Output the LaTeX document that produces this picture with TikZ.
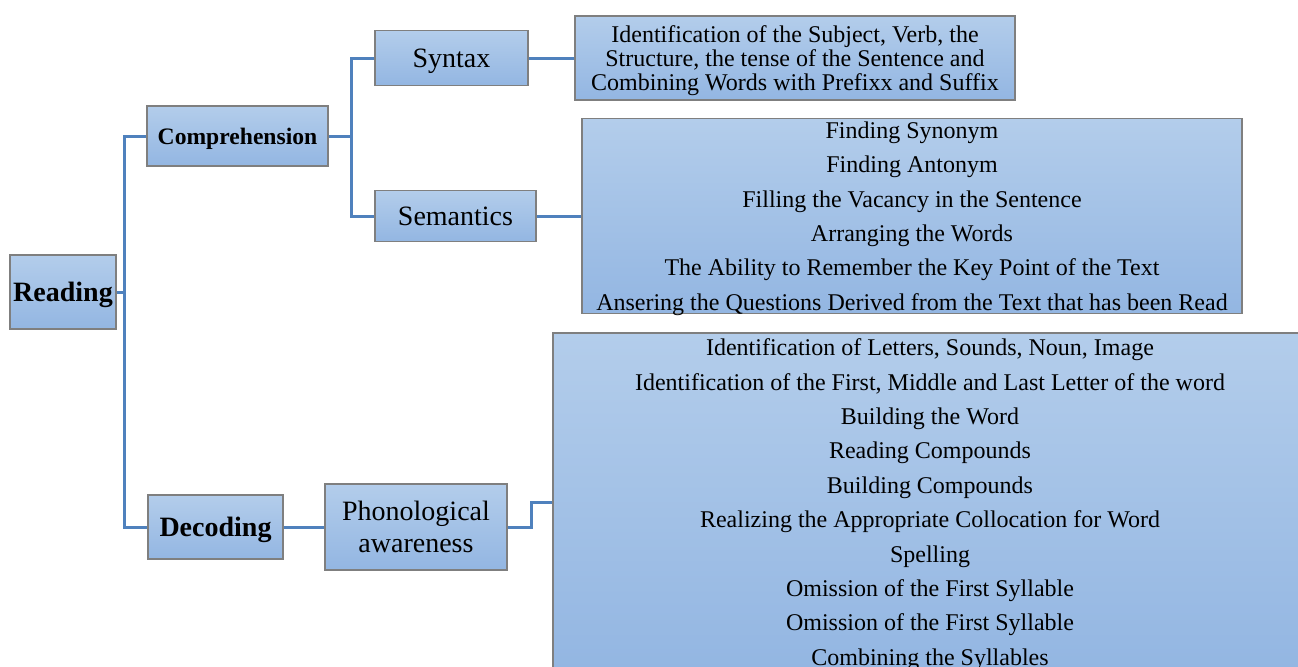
\documentclass[tikz,border=0pt]{standalone}
\usepackage{fontspec}
\setmainfont{Liberation Serif}
\usepackage{tikz}
\usetikzlibrary{positioning, calc}
\usepackage{xcolor}
\definecolor{BoxTop}{HTML}{B3CDEB}
\definecolor{BoxBottom}{HTML}{93B6E2}
\definecolor{BoxEdge}{HTML}{7F7F7F}
\definecolor{LinkBlue}{HTML}{4F81BD}
\tikzset{
    % Box styles
    treebox/.style={
        rectangle,
        draw=BoxEdge,
        top color=BoxTop,
        bottom color=BoxBottom,
        line width=0.6pt,
        inner sep=0pt,
        text depth=0pt,
        align=center,
        text=black
    },
    mainbox/.style={
        treebox,
        font=\fontsize{14}{16}\selectfont
    },
    detailbox/.style={
        treebox,
        font=\fontsize{12}{17.2}\selectfont
    },
    % Connector style
    treelink/.style={
        draw=LinkBlue,
        line width=1.5pt
    }
}

\begin{document}
\begin{tikzpicture}[x=0.5pt, y=-0.5pt]
    \clip (0,0) rectangle (1298,666);
    \fill[white] (0,0) rectangle (1298,666);

    % first levels
    \node[mainbox, font=\fontsize{14}{16}\selectfont\bfseries, minimum width=53pt, minimum height=37pt] (read) at (63,292) {Reading};
    \node[mainbox, font=\fontsize{11.8}{14}\selectfont\bfseries, minimum width=90.5pt, minimum height=30pt] (comp) at (237.5,136) {Comprehension};
    \node[mainbox, font=\fontsize{14}{16}\selectfont\bfseries, minimum width=67.5pt, minimum height=32pt] (deco) at (215.5,527) {Decoding};
    \node[mainbox, minimum width=76.5pt, minimum height=27.5pt] (synt) at (451.5,58) {Syntax};
    \node[mainbox, minimum width=80.5pt, minimum height=25.5pt] (sema) at (455.5,216) {Semantics};
    \node[mainbox, minimum width=91pt, minimum height=43pt] (phon) at (416,527) {Phonological\\awareness};

    % detail boxes
    \node[detailbox, font=\fontsize{12}{12}\selectfont, minimum width=220pt, minimum height=42pt] (syntdet) at (795,58) {Identification of the Subject, Verb, the\\Structure, the tense of the Sentence and\\Combining Words with Prefixx and Suffix};
    \node[detailbox, minimum width=330pt, minimum height=97.5pt] (semadet) at (912,216) {Finding Synonym\\Finding Antonym\\Filling the Vacancy in the Sentence\\Arranging the Words\\The Ability to Remember the Key Point of the Text\\Ansering the Questions Derived from the Text that has been Read};
    \node[detailbox, minimum width=377pt, minimum height=169pt] (phondet) at (930,502) {Identification of Letters, Sounds, Noun, Image\\Identification of the First, Middle and Last Letter of the word\\Building the Word\\Reading Compounds\\Building Compounds\\Realizing the Appropriate Collocation for Word\\Spelling\\Omission of the First Syllable\\Omission of the First Syllable\\Combining the Syllables};

    % junctions
    \coordinate (jread) at (124,292);
    \coordinate (jcomp) at (351,136);
    \coordinate (jphon) at (531,527);

    \draw[treelink] (read.east) -- (jread) |- (comp.west);
    \draw[treelink] (jread) |- (deco.west);
    \draw[treelink] (comp.east) -- (jcomp) |- (synt.west);
    \draw[treelink] (jcomp) |- (sema.west);
    \draw[treelink] (deco.east) -- (phon.west);
    \draw[treelink] (synt.east) -- (syntdet.west);
    \draw[treelink] (sema.east) -- (semadet.west);
    \draw[treelink] (phon.east) -- (jphon) |- (phondet.west);
\end{tikzpicture}
\end{document}
